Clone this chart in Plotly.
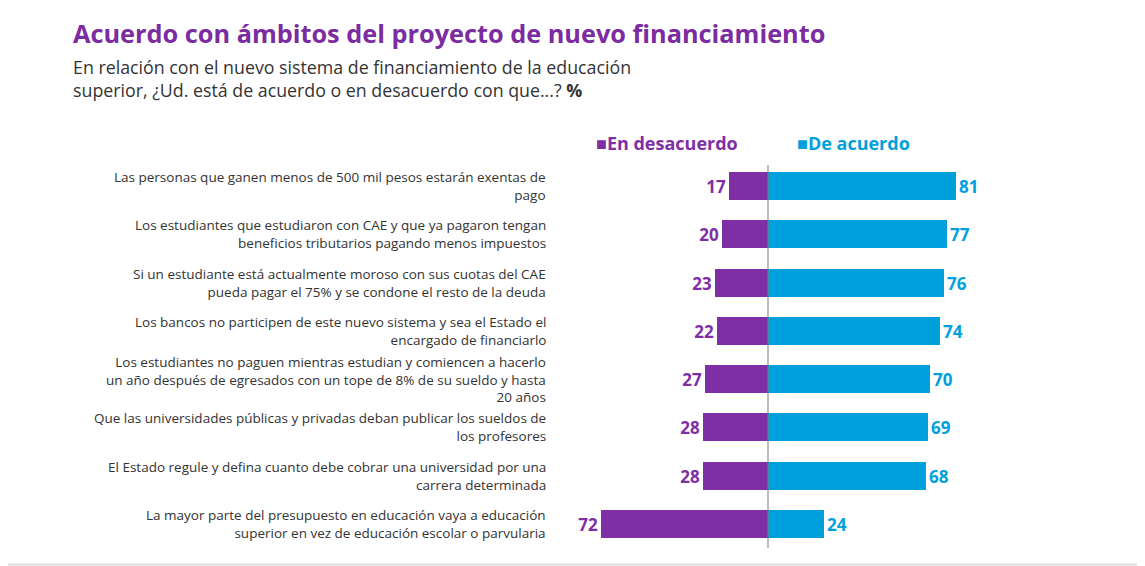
import plotly.graph_objects as go

categories = [
    "Las personas que ganen menos de 500 mil pesos estarán exentas de<br>pago",
    "Los estudiantes que estudiaron con CAE y que ya pagaron tengan<br>beneficios tributarios pagando menos impuestos",
    "Si un estudiante está actualmente moroso con sus cuotas del CAE<br>pueda pagar el 75% y se condone el resto de la deuda",
    "Los bancos no participen de este nuevo sistema y sea el Estado el<br>encargado de financiarlo",
    "Los estudiantes no paguen mientras estudian y comiencen a hacerlo<br>un año después de egresados con un tope de 8% de su sueldo y hasta<br>20 años",
    "Que las universidades públicas y privadas deban publicar los sueldos de<br>los profesores",
    "El Estado regule y defina cuanto debe cobrar una universidad por una<br>carrera determinada",
    "La mayor parte del presupuesto en educación vaya a educación<br>superior en vez de educación escolar o parvularia",
]
desacuerdo = [17, 20, 23, 22, 27, 28, 28, 72]
acuerdo = [81, 77, 76, 74, 70, 69, 68, 24]

PURPLE = "#7F2FA5"
BLUE = "#00A0DD"
TITLE_PURPLE = "#7B2CA0"
FONT = "Open Sans"

OFF = 8  # page body margin
W, H = 1145 - OFF, 566 - OFF
ml, mr, mt, mb = 552, 0, 157, 18
PW, PH = W - ml - mr, H - mt - mb
zero_px = 768 - OFF
ppu = 2.32
x_lo = (ml - zero_px) / ppu
x_hi = (W - mr - zero_px) / ppu


def px_x(px):
    return (px - OFF - ml) / PW


def px_y(py):
    return (H - mb - (py - OFF)) / PH


idx = list(range(len(categories)))
row_px = 48.29
y_top = -((186 - OFF) - mt) / row_px
y_bot = (len(categories) - 1) + ((H - mb) - (524 - OFF)) / row_px

fig = go.Figure()
fig.add_trace(go.Bar(
    y=idx, x=[-v for v in desacuerdo], orientation="h", name="En desacuerdo",
    marker=dict(color=PURPLE, line=dict(width=0)), width=0.58,
    text=[f"<b>{v}</b>" for v in desacuerdo], textposition="outside",
    textfont=dict(family=FONT, size=17, color=PURPLE), cliponaxis=False,
))
fig.add_trace(go.Bar(
    y=idx, x=acuerdo, orientation="h", name="De acuerdo",
    marker=dict(color=BLUE, line=dict(width=0)), width=0.58,
    text=[f"<b>{v}</b>" for v in acuerdo], textposition="outside",
    textfont=dict(family=FONT, size=17, color=BLUE), cliponaxis=False,
))

annotations = []
for i, c in enumerate(categories):
    annotations.append(dict(
        x=px_x(548), xref="paper", y=i, yref="y", text=c, showarrow=False,
        xanchor="right", yanchor="middle", align="right",
        font=dict(family=FONT, size=13.5, color="#333333"),
    ))

# title & subtitle
annotations.append(dict(
    x=px_x(71), xref="paper", y=px_y(33), yref="paper",
    text="<b>Acuerdo con ámbitos del proyecto de nuevo financiamiento</b>",
    showarrow=False, xanchor="left", yanchor="middle",
    font=dict(family=FONT, size=25.3, color=TITLE_PURPLE),
))
annotations.append(dict(
    x=px_x(71), xref="paper", y=px_y(78), yref="paper",
    text="En relación con el nuevo sistema de financiamiento de la educación<br>superior, ¿Ud. está de acuerdo o en desacuerdo con que...? <b>%</b>",
    showarrow=False, xanchor="left", yanchor="middle", align="left",
    font=dict(family=FONT, size=17.8, color="#333333"),
))
# legend
annotations.append(dict(
    x=px_x(594), xref="paper", y=px_y(143), yref="paper",
    text="■<b>En desacuerdo</b>",
    showarrow=False, xanchor="left", yanchor="middle",
    font=dict(family=FONT, size=18, color=PURPLE),
))
annotations.append(dict(
    x=px_x(795), xref="paper", y=px_y(143), yref="paper",
    text="■<b>De acuerdo</b>",
    showarrow=False, xanchor="left", yanchor="middle",
    font=dict(family=FONT, size=18, color=BLUE),
))

shapes = [
    dict(type="line", xref="x", yref="paper", x0=0, x1=0, y0=0, y1=1,
         line=dict(color="#7a7a7a", width=1)),
    dict(type="line", xref="paper", yref="paper", x0=px_x(0), x1=1,
         y0=px_y(564.5), y1=px_y(564.5),
         line=dict(color="#dddddd", width=2)),
]

fig.update_layout(
    width=W, height=H, barmode="relative", bargap=0,
    margin=dict(l=ml, r=mr, t=mt, b=mb),
    paper_bgcolor="white", plot_bgcolor="white",
    showlegend=False,
    xaxis=dict(range=[x_lo, x_hi], visible=False, fixedrange=True),
    yaxis=dict(range=[y_bot, y_top], visible=False, fixedrange=True),
    annotations=annotations, shapes=shapes,
    font=dict(family=FONT),
)

fig.write_html("out.html", config={"displayModeBar": False})
